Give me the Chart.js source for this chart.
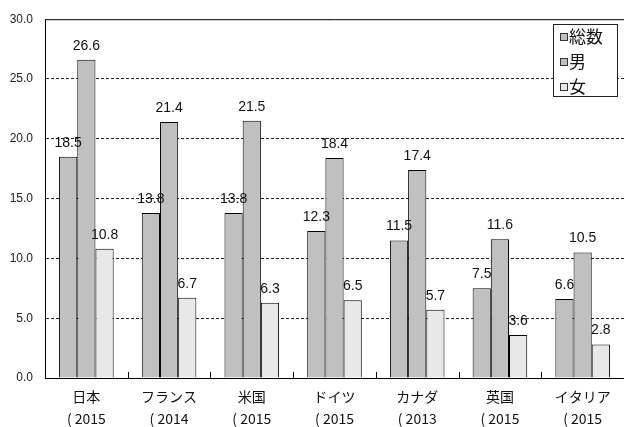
<!DOCTYPE html>
<html>
<head>
<meta charset="utf-8">
<script src="https://cdn.jsdelivr.net/npm/chart.js@4"></script>
<style>
  html, body { margin: 0; padding: 0; background: #fff; }
  #wrap { width: 624px; height: 427px; }
</style>
</head>
<body>
<div id="wrap"><canvas id="chart" width="624" height="427"></canvas></div>
<script>
const countries = ['日本', 'フランス', '米国', 'ドイツ', 'カナダ', '英国', 'イタリア'];
const years = ['( 2015', '( 2014', '( 2015', '( 2015', '( 2013', '( 2015', '( 2015'];
const totalValues = [18.5, 13.8, 13.8, 12.3, 11.5, 7.5, 6.6];
const maleValues = [26.6, 21.4, 21.5, 18.4, 17.4, 11.6, 10.5];
const femaleValues = [10.8, 6.7, 6.3, 6.5, 5.7, 3.6, 2.8];
const seriesNames = ['総数', '男', '女'];
const yTicks = [0, 5, 10, 15, 20, 25, 30];

const cjkFont = '"Noto Sans CJK JP", "DejaVu Sans", sans-serif';
const numFont = '"Liberation Sans", Arial, sans-serif';

// 棒の上の数値
const valueLabels = {
    id: 'valueLabels',
    afterDatasetsDraw(chart) {
        const ctx = chart.ctx;
        ctx.save();
        ctx.fillStyle = '#111';
        ctx.font = '14px ' + numFont;
        ctx.textAlign = 'center';
        ctx.textBaseline = 'bottom';
        chart.data.datasets.forEach((ds, i) => {
            const meta = chart.getDatasetMeta(i);
            meta.data.forEach((bar, j) => {
                ctx.fillText(ds.data[j].toFixed(1), bar.x, bar.y - 7);
            });
        });
        ctx.restore();
    }
};

// 枠線・内向き目盛・凡例
const frame = {
    id: 'frame',
    afterDraw(chart) {
        const ctx = chart.ctx;
        const area = chart.chartArea;
        const x = chart.scales.x;
        ctx.save();
        ctx.strokeStyle = '#000';
        ctx.lineWidth = 1;
        ctx.beginPath();
        ctx.moveTo(area.left, area.top + 0.5);
        ctx.lineTo(area.right, area.top + 0.5);
        for (let i = 1; i < countries.length; i++) {
            const px = Math.round((x.getPixelForValue(i - 1) + x.getPixelForValue(i)) / 2) + 0.5;
            ctx.moveTo(px, area.bottom);
            ctx.lineTo(px, area.bottom - 6);
        }
        ctx.stroke();

        // 凡例
        const bx = 553, by = 24, bw = 64, bh = 72;
        ctx.fillStyle = '#fff';
        ctx.fillRect(bx, by, bw, bh);
        ctx.strokeStyle = '#222';
        ctx.strokeRect(bx + 0.5, by + 0.5, bw, bh);
        ctx.font = '17px ' + cjkFont;
        ctx.textBaseline = 'middle';
        ctx.textAlign = 'left';
        chart.data.datasets.forEach((ds, i) => {
            const cy = by + 13 + i * 25;
            ctx.fillStyle = ds.backgroundColor;
            ctx.fillRect(bx + 8, cy - 3, 6, 6);
            ctx.strokeStyle = '#333';
            ctx.strokeRect(bx + 7.5, cy - 3.5, 7, 7);
            ctx.fillStyle = '#111';
            ctx.fillText(ds.label, bx + 16, cy);
        });
        ctx.restore();
    }
};

const barStyle = {
    borderColor: '#000',
    borderWidth: 1,
    borderSkipped: 'bottom',
    categoryPercentage: 0.66,
    barPercentage: 1.0
};

new Chart(document.getElementById('chart').getContext('2d'), {
    type: 'bar',
    data: {
        labels: countries.map((c, i) => [c, years[i]]),
        datasets: [
            Object.assign({ label: seriesNames[0], data: totalValues, backgroundColor: '#c0c0c0' }, barStyle),
            Object.assign({ label: seriesNames[1], data: maleValues, backgroundColor: '#c0c0c0' }, barStyle),
            Object.assign({ label: seriesNames[2], data: femaleValues, backgroundColor: '#e8e8e8' }, barStyle)
        ]
    },
    options: {
        responsive: false,
        animation: false,
        devicePixelRatio: 1,
        layout: { padding: { top: 15, right: 0, left: 0, bottom: 0 } },
        plugins: {
            legend: { display: false },
            tooltip: { enabled: false }
        },
        scales: {
            x: {
                grid: { display: false },
                border: { color: '#000', width: 1 },
                ticks: {
                    color: '#111',
                    font: { family: cjkFont, size: 14, lineHeight: 1.55 },
                    padding: 0,
                    maxRotation: 0,
                    autoSkip: false
                },
                afterFit(scale) { scale.height = 49; }
            },
            y: {
                min: 0,
                max: 30,
                afterBuildTicks(scale) { scale.ticks = yTicks.map(v => ({ value: v })); },
                grid: {
                    color: ctx => (ctx.tick && (ctx.tick.value === 0 || ctx.tick.value === 30)) ? 'rgba(0,0,0,0)' : '#222',
                    lineWidth: 1,
                    drawTicks: false
                },
                border: { color: '#000', width: 1, dash: [3, 2] },
                ticks: {
                    color: '#222',
                    font: { family: numFont, size: 12 },
                    padding: 12,
                    callback: v => Number(v).toFixed(1)
                },
                afterFit(scale) { scale.width = 45; }
            }
        }
    },
    plugins: [valueLabels, frame]
});
</script>
</body>
</html>
